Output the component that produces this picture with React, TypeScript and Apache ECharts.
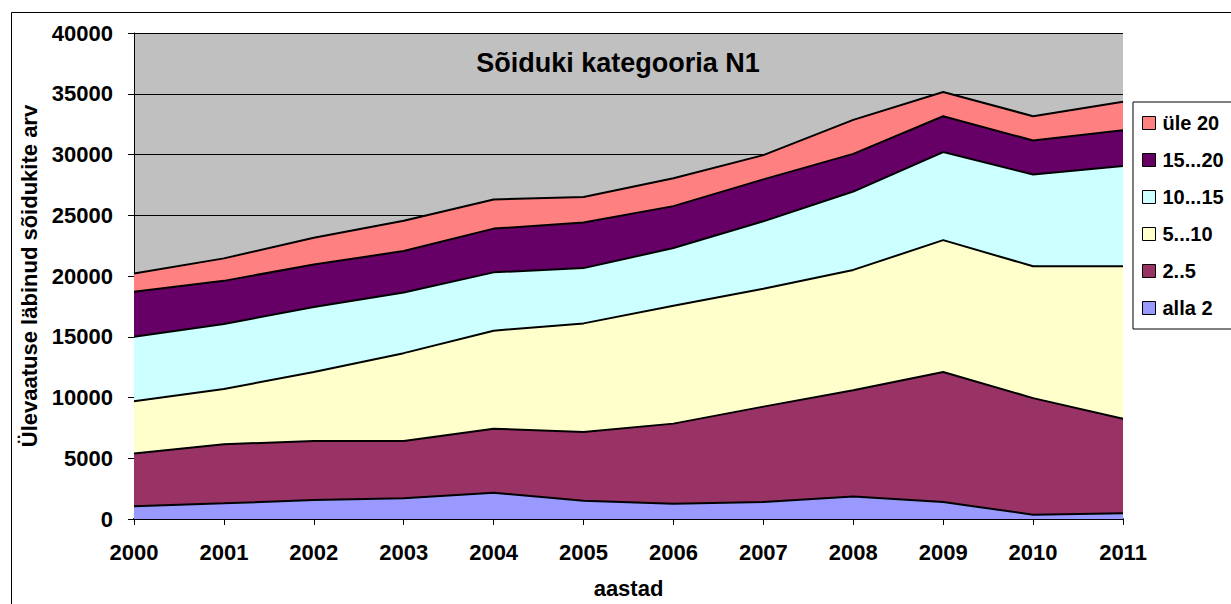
import React, { useEffect, useRef } from "react";
import * as echarts from "echarts";

const years = ["2000","2001","2002","2003","2004","2005","2006","2007","2008","2009","2010","2011"];
const seriesNames = ["alla 2", "2..5", "5...10", "10...15", "15...20", "üle 20"];
const alla2 = [1050,1290,1560,1700,2160,1500,1250,1400,1850,1400,350,480];
const s2to5 = [4350,4860,4860,4720,5270,5670,6600,7850,8750,10700,9600,7770];
const s5to10 = [4300,4550,5680,7230,8070,8930,9700,9700,9900,10850,10850,12550];
const s10to15 = [5300,5350,5350,5000,4800,4550,4750,5550,6450,7250,7550,8250];
const s15to20 = [3700,3550,3500,3400,3600,3750,3450,3450,3100,2950,2800,2950];
const ule20 = [1500,1850,2200,2500,2400,2100,2300,2000,2800,2000,2000,2350];
const colors = ["#9999FF", "#993366", "#FFFFCC", "#CCFFFF", "#660066", "#FF8080"];
const yTicks = { min: 0, max: 40000, interval: 5000 };

const FONT = "Arial, 'Liberation Sans', sans-serif";

export default function App() {
  const ref = useRef<HTMLDivElement>(null);
  useEffect(() => {
    document.body.style.margin = "0";
    const chart = echarts.init(ref.current!, null, { renderer: "svg" });
    const dataSets = [alla2, s2to5, s5to10, s10to15, s15to20, ule20];
    chart.setOption({
      animation: false,
      backgroundColor: "#FFFFFF",
      title: {
        text: "Sõiduki kategooria N1",
        left: 613,
        top: 44,
        textAlign: "center",
        textStyle: { fontFamily: FONT, fontSize: 27, fontWeight: "bold", color: "#000" },
      },
      graphic: [
        {
          type: "rect",
          shape: { x: 11.5, y: 12.5, width: 1240, height: 620 },
          style: { fill: "none", stroke: "#000", lineWidth: 1 },
          silent: true,
          z: -1,
        },
      ],
      legend: {
        orient: "vertical",
        left: 1133,
        top: 102,
        data: [...seriesNames].reverse(),
        itemWidth: 13,
        itemHeight: 13,
        itemGap: 17,
        padding: [11, 30, 11, 9],
        borderColor: "#000",
        borderWidth: 1,
        icon: "rect",
        itemStyle: { borderColor: "#000", borderWidth: 1 },
        textStyle: { fontFamily: FONT, fontSize: 20, fontWeight: "bold", color: "#000", padding: [0, 0, 0, 2] },
      },
      grid: {
        left: 134,
        right: 108,
        top: 33,
        bottom: 85,
        show: true,
        backgroundColor: "#C0C0C0",
        borderWidth: 0,
      },
      xAxis: {
        type: "category",
        data: years,
        boundaryGap: false,
        name: "aastad",
        nameLocation: "middle",
        nameGap: 58,
        nameTextStyle: { fontFamily: FONT, fontSize: 22, fontWeight: "bold", color: "#000" },
        axisLine: { lineStyle: { color: "#000", width: 2 } },
        axisTick: { show: true, length: 6, lineStyle: { color: "#000" } },
        axisLabel: { fontFamily: FONT, fontSize: 22, fontWeight: "bold", color: "#000", margin: 22 },
        splitLine: { show: false },
      },
      yAxis: {
        type: "value",
        min: yTicks.min,
        max: yTicks.max,
        interval: yTicks.interval,
        name: "Ülevaatuse läbinud sõidukite arv",
        nameLocation: "middle",
        nameGap: 90,
        nameTextStyle: { fontFamily: FONT, fontSize: 22, fontWeight: "bold", color: "#000" },
        axisLine: { show: true, lineStyle: { color: "#000", width: 1 } },
        axisTick: { show: true, length: 6, lineStyle: { color: "#000" } },
        axisLabel: {
          fontFamily: FONT, fontSize: 22, fontWeight: "bold", color: "#000", margin: 21,
          formatter: (v: number) => String(v),
        },
        splitLine: { show: true, lineStyle: { color: "#000", width: 1 } },
      },
      series: seriesNames.map((name, i) => ({
        name,
        type: "line",
        stack: "total",
        data: dataSets[i],
        symbol: "none",
        color: colors[i],
        lineStyle: { color: "#000", width: 2 },
        areaStyle: { color: colors[i], opacity: 1 },
        itemStyle: { color: colors[i], borderColor: "#000", borderWidth: 1 },
        z: 2,
      })),
    });
    return () => chart.dispose();
  }, []);
  return <div ref={ref} style={{ width: 1231, height: 604 }} />;
}
